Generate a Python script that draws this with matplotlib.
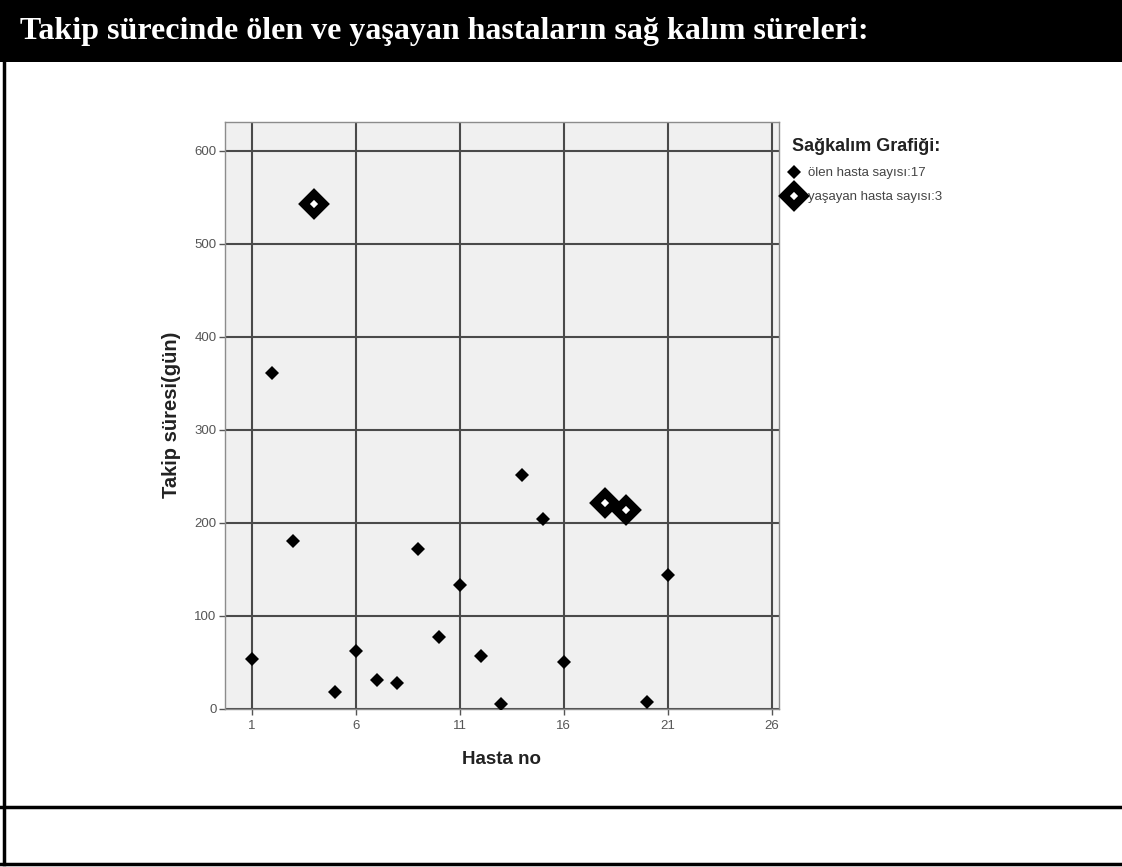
import numpy as np
import matplotlib.pyplot as plt
from matplotlib.patches import Rectangle
from matplotlib.lines import Line2D

plt.rcParams['font.family'] = ['Liberation Sans', 'DejaVu Sans']

# patients who died during follow-up
olen_no = [1, 2, 3, 5, 6, 7, 8, 9, 10, 11, 12, 13, 14, 15, 16, 20, 21]
olen_gun = [53, 361, 180, 18, 62, 31, 27, 172, 77, 133, 57, 5, 251, 204, 50, 7, 144]
# patients still alive
yasayan_no = [4, 18, 19]
yasayan_gun = [543, 221, 214]

xticks = [1, 6, 11, 16, 21, 26]
yticks = [0, 100, 200, 300, 400, 500, 600]

fig = plt.figure(figsize=(11.22, 8.67), dpi=100)

# header bar + page borders
fig.patches.append(Rectangle((0, 1 - 62/867), 1, 62/867, transform=fig.transFigure,
                             facecolor='black', edgecolor='none', zorder=0))
fig.text(20/1122, 1 - 31/867, 'Takip sürecinde ölen ve yaşayan hastaların sağ kalım süreleri:',
         color='white', fontsize=23, fontweight='bold', family='Liberation Serif',
         va='center', ha='left')
fig.add_artist(Line2D([4/1122, 4/1122], [1 - 62/867, 1 - 864/867], color='black', lw=2.5,
                      transform=fig.transFigure))
for yy in [807, 864]:
    fig.add_artist(Line2D([0, 1], [1 - yy/867, 1 - yy/867], color='black', lw=2.5,
                          transform=fig.transFigure))

ax = fig.add_axes([225/1122, 1 - 708.5/867, (779 - 225)/1122, (708.5 - 121.7)/867])
ax.set_facecolor('#f0f0f0')
ax.set_xlim(-0.28, 26.34)
ax.set_ylim(0, 631.5)
ax.set_xticks(xticks)
ax.set_yticks(yticks)
ax.grid(True, color='#4a4a4a', lw=1.5)
ax.set_axisbelow(True)
for s in ax.spines.values():
    s.set_color('#8c8c8c')
    s.set_linewidth(1.0)
ax.tick_params(axis='both', colors='#555555', labelsize=9.5, length=4, width=1, pad=2)
ax.tick_params(axis='x', pad=4)

ax.plot(olen_no, olen_gun, 'D', color='black', markersize=7.2, markeredgewidth=0,
        linestyle='none', label='ölen hasta sayısı:17', zorder=3)
ax.plot(yasayan_no, yasayan_gun, 'D', markerfacecolor='white', markeredgecolor='black',
        markersize=10.5, markeredgewidth=6.0, linestyle='none',
        label='yaşayan hasta sayısı:3', zorder=3)

ax.set_xlabel('Hasta no', fontsize=13.5, fontweight='bold', color='#222222', labelpad=14)
ax.set_ylabel('Takip süresi(gün)', fontsize=14.5, fontweight='bold', color='#222222', labelpad=10)

leg = ax.legend(loc='upper left', bbox_to_anchor=(1.024, 0.972), frameon=False,
                title='Sağkalım Grafiği:', alignment='left', fontsize=9.5,
                handlelength=0.2, handletextpad=1.0, labelspacing=0.9,
                borderaxespad=0, borderpad=0)
leg.get_title().set_fontweight('bold')
leg.get_title().set_fontsize(13)
leg.get_title().set_color('#222222')
for t in leg.get_texts():
    t.set_color('#444444')

fig.savefig('out.png', dpi=100)
